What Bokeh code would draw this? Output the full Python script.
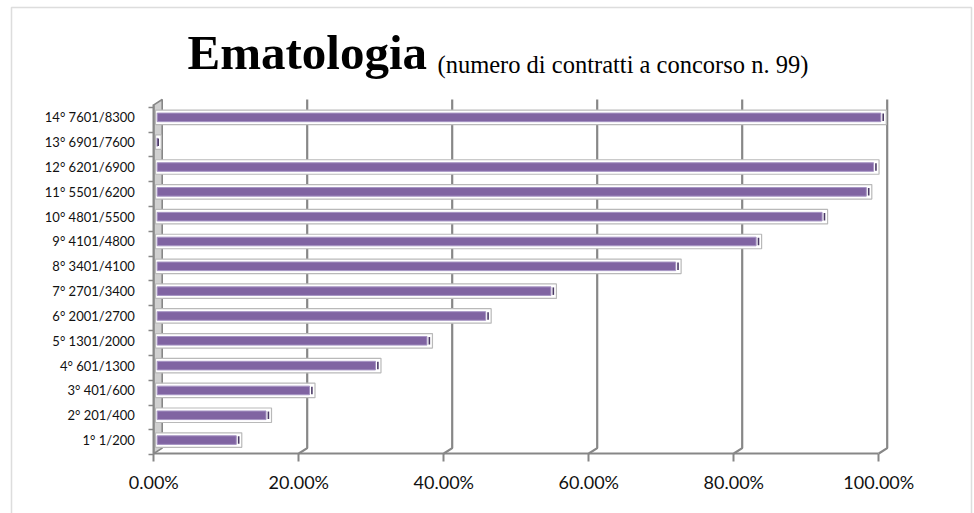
import numpy as np
from bokeh.plotting import figure
from bokeh.models import Range1d, FixedTicker, LinearAxis, BoxAnnotation, ColumnDataSource
from bokeh.core.properties import value
from bokeh.embed import file_html
from bokeh.resources import INLINE

# ---- data ----
categories = ["1° 1/200", "2° 201/400", "3° 401/600", "4° 601/1300", "5° 1301/2000",
              "6° 2001/2700", "7° 2701/3400", "8° 3401/4100", "9° 4101/4800",
              "10° 4801/5500", "11° 5501/6200", "12° 6201/6900", "13° 6901/7600",
              "14° 7601/8300"]
shares = [0.111, 0.152, 0.212, 0.303, 0.374, 0.455, 0.545, 0.717, 0.828,
          0.919, 0.980, 0.990, 0.0, 1.0]
x_ticks = [0.0, 0.2, 0.4, 0.6, 0.8, 1.0]
x_tick_labels = ["0.00%", "20.00%", "40.00%", "60.00%", "80.00%", "100.00%"]
title_main = "Ematologia"
title_sub = "(numero di contratti a concorso n. 99)"

# ---- geometry (pixel scale of the chart) ----
W, H = 974, 513
X_PX = 725.0          # pixels per 100 %
Y_PX = 24.825         # pixels per category
X_ORIGIN = 153.3      # screen x of 0 %
Y_ORIGIN = 453.0      # screen y of the front floor
Y0, Y1 = -0.04, 14.22 # front floor / top of back wall in category units

px = 1.0 / X_PX
py = 1.0 / Y_PX

def sx(xpix):
    return (xpix - X_ORIGIN) * px

def sy(ypix):
    return Y0 + (Y_ORIGIN - ypix) * py

p = figure(width=W, height=H, output_backend="svg", toolbar_location=None,
           x_range=Range1d(sx(0), sx(W)), y_range=Range1d(sy(H), sy(0)),
           x_axis_location=None, y_axis_location=None, min_border=0)
p.outline_line_color = None
p.xgrid.grid_line_color = None
p.ygrid.grid_line_color = None
p.background_fill_color = "white"
p.border_fill_color = "white"

dx = 8.4 * px   # 3D depth offset
dy = 5.4 * py
GRAY = "#878787"

# outer chart border
p.add_layout(BoxAnnotation(left=sx(11), right=sx(971), top=sy(7), bottom=sy(H + 20),
                           fill_color=None, line_color="#8f8f8f", line_width=1.5))

# back-wall gridlines with 3D floor kink
xs, ys = [], []
for t in x_ticks[1:]:
    xs.append([t, t + dx, t + dx])
    ys.append([Y0, Y0 + dy, Y1])
p.multi_line(xs, ys, line_color=GRAY, line_width=2.2)

# left wall
p.patch([0, 0, dx, dx], [Y0, Y1 - dy, Y1, Y0 + dy],
        fill_color="#d0d0d0", line_color=GRAY, line_width=1.6)

# bars
n = len(categories)
vals = np.array(shares)
yc = np.arange(n) + 0.5
src = ColumnDataSource(dict(
    y=yc,
    outer_r=vals + 7.5 * px,
    purple_r=np.maximum(vals + 2.0 * px, 3.4 * px),
    stripe_l=vals + 3.6 * px,
    stripe_r=vals + 5.2 * px,
))
p.hbar(y="y", left=1.7 * px, right="outer_r", height=14.5 * py, source=src,
       fill_color="white", line_color="#b9b9b9", line_width=1.2)
p.hbar(y="y", left=3.4 * px, right="purple_r", height=8.6 * py, source=src,
       fill_color="#8064A2", line_color="#a795c4", line_width=1)
p.hbar(y="y", left="stripe_l", right="stripe_r", height=7.5 * py, source=src,
       fill_color="#4b3a66", line_color=None)

# x axis (front floor edge)
xa = LinearAxis(fixed_location=Y0, bounds=(0, 1.0))
xa.ticker = FixedTicker(ticks=x_ticks)
xa.major_label_overrides = {t: l for t, l in zip(x_ticks, x_tick_labels)}
xa.axis_line_color = GRAY
xa.axis_line_width = 2.2
xa.major_tick_line_color = GRAY
xa.major_tick_line_width = 2
xa.major_tick_out = 8
xa.major_tick_in = 0
xa.minor_tick_line_color = None
xa.major_label_text_font = "Lato"
xa.major_label_text_font_size = "18px"
xa.major_label_text_color = "#111111"
xa.major_label_standoff = 9
p.add_layout(xa, "below")

# y axis (categories, front edge of the wall)
ya = LinearAxis(fixed_location=0, bounds=(Y0, Y1 - dy))
ya.ticker = FixedTicker(ticks=list(yc), minor_ticks=[i - 0.09 for i in range(n + 1)])
ya.major_label_overrides = {float(v): c for v, c in zip(yc, categories)}
ya.axis_line_color = GRAY
ya.axis_line_width = 2
ya.major_tick_line_color = None
ya.major_tick_out = 0
ya.major_tick_in = 0
ya.minor_tick_line_color = GRAY
ya.minor_tick_line_width = 1.5
ya.minor_tick_out = 5
ya.minor_tick_in = 0
ya.major_label_text_font = "Lato"
ya.major_label_text_font_size = "13px"
ya.major_label_text_color = "#111111"
ya.major_label_standoff = 14
p.add_layout(ya, "left")

# titles
p.text(x=[sx(187)], y=[sy(52)], text=[title_main],
       text_font=value("Liberation Serif"), text_font_style="bold",
       text_font_size="49px", text_baseline="middle", text_color="black")
p.text(x=[sx(437)], y=[sy(63.5)], text=[title_sub],
       text_font=value("Liberation Serif"), text_font_size="24.5px",
       text_baseline="middle", text_color="black")

open("out.html", "w").write(file_html(p, INLINE))
